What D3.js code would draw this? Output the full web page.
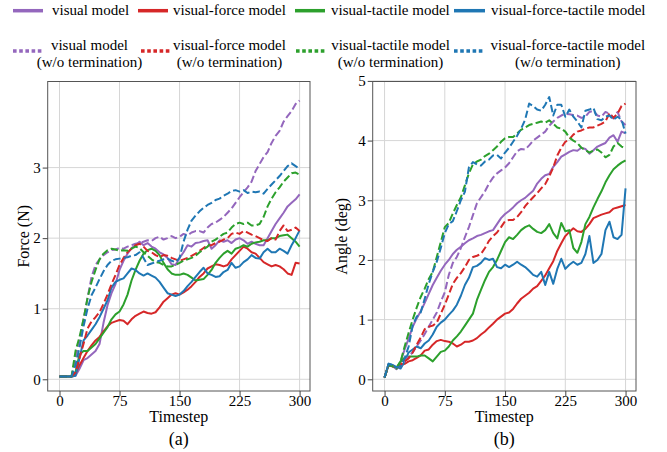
<!DOCTYPE html>
<html><head><meta charset="utf-8">
<script src="https://cdn.jsdelivr.net/npm/d3@7"></script>
<style>
body{margin:0;background:#fff}
svg{display:block}
svg text{font-family:'Liberation Serif','Times New Roman',Tinos,'DejaVu Serif',serif !important;fill:#000}
</style>
</head><body><svg id="c" width="667" height="452" font-family="Liberation Serif, DejaVu Serif, serif"></svg>
<script>
const timesteps = [0,5,10,15,20,25,30,35,40,45,50,55,60,65,70,75,80,85,90,95,100,105,110,115,120,125,130,135,140,145,150,155,160,165,170,175,180,185,190,195,200,205,210,215,220,225,230,235,240,245,250,255,260,265,270,275,280,285,290,295,300];

// Force (N)
const forceV = [0.04,0.04,0.04,0.04,0.05,0.15,0.27,0.3,0.35,0.4,0.5,0.8,1.05,1.22,1.35,1.55,1.68,1.78,1.86,1.9,1.95,1.9,1.93,1.88,1.85,1.8,1.77,1.72,1.63,1.62,1.72,1.8,1.9,1.88,1.93,1.94,1.96,1.97,1.85,1.9,1.97,1.95,1.97,1.93,1.98,2.0,1.97,1.92,1.95,1.92,1.9,1.9,2.0,2.1,2.2,2.28,2.36,2.45,2.5,2.55,2.62];
const forceVF = [0.04,0.04,0.04,0.04,0.08,0.2,0.3,0.4,0.48,0.55,0.6,0.68,0.75,0.8,0.82,0.84,0.83,0.78,0.85,0.9,0.93,0.96,0.94,0.93,0.95,1.02,1.1,1.15,1.2,1.22,1.2,1.23,1.27,1.32,1.38,1.45,1.5,1.57,1.6,1.63,1.62,1.6,1.62,1.7,1.76,1.82,1.88,1.85,1.8,1.78,1.72,1.66,1.63,1.6,1.62,1.6,1.56,1.5,1.48,1.65,1.64];
const forceVT = [0.04,0.04,0.04,0.04,0.1,0.35,0.4,0.4,0.45,0.5,0.58,0.66,0.74,0.85,0.92,0.96,1.06,1.2,1.4,1.55,1.68,1.78,1.83,1.85,1.82,1.76,1.65,1.56,1.5,1.48,1.48,1.5,1.48,1.44,1.4,1.41,1.42,1.48,1.55,1.65,1.72,1.78,1.82,1.78,1.85,1.87,1.9,1.88,1.92,1.94,1.95,1.97,1.97,2.0,2.0,2.03,2.04,2.05,2.0,1.95,1.88];
const forceVFT = [0.04,0.04,0.04,0.04,0.05,0.3,0.55,0.62,0.7,0.78,0.88,1.0,1.12,1.3,1.38,1.41,1.43,1.5,1.57,1.55,1.5,1.47,1.5,1.47,1.44,1.38,1.3,1.22,1.2,1.18,1.2,1.25,1.32,1.38,1.45,1.52,1.58,1.5,1.48,1.45,1.46,1.52,1.55,1.65,1.58,1.6,1.66,1.7,1.76,1.72,1.71,1.8,1.85,1.8,1.8,1.85,1.82,1.78,1.9,2.0,2.11];
const forceVwo = [0.04,0.04,0.04,0.04,0.3,0.55,0.85,1.15,1.45,1.62,1.7,1.76,1.8,1.83,1.84,1.86,1.85,1.88,1.9,1.92,1.93,1.95,1.97,1.96,2.0,2.02,1.98,2.0,2.03,2.0,2.02,2.06,2.04,2.08,2.1,2.1,2.08,2.15,2.2,2.22,2.26,2.3,2.36,2.42,2.5,2.58,2.65,2.72,2.8,2.95,3.05,3.15,3.22,3.35,3.45,3.52,3.65,3.73,3.8,3.9,3.95];
const forceVFwo = [0.04,0.04,0.04,0.04,0.1,0.3,0.5,0.72,0.82,0.88,0.95,1.07,1.2,1.35,1.48,1.62,1.72,1.8,1.85,1.9,1.92,1.88,1.82,1.8,1.76,1.73,1.76,1.75,1.72,1.7,1.68,1.7,1.72,1.75,1.78,1.82,1.86,1.9,1.9,1.93,1.95,1.98,2.0,2.06,2.08,2.06,2.1,2.08,2.05,2.03,2.0,1.97,1.96,2.0,1.98,2.1,2.18,2.1,2.12,2.15,2.1];
const forceVTwo = [0.04,0.04,0.04,0.04,0.4,0.6,0.85,1.15,1.38,1.55,1.7,1.78,1.83,1.85,1.84,1.82,1.83,1.82,1.85,1.88,1.86,1.8,1.75,1.7,1.66,1.65,1.62,1.6,1.6,1.62,1.65,1.68,1.7,1.72,1.75,1.8,1.84,1.88,1.95,1.98,2.02,2.06,2.08,2.15,2.2,2.22,2.2,2.22,2.18,2.18,2.2,2.3,2.45,2.56,2.65,2.72,2.8,2.86,2.92,2.93,2.9];
const forceVFTwo = [0.04,0.04,0.04,0.04,0.2,0.45,0.75,1.0,1.19,1.3,1.42,1.53,1.62,1.68,1.7,1.71,1.72,1.73,1.75,1.76,1.8,1.72,1.62,1.64,1.66,1.68,1.7,1.71,1.68,1.66,1.72,1.95,2.12,2.25,2.32,2.38,2.43,2.47,2.5,2.54,2.56,2.6,2.63,2.67,2.68,2.66,2.68,2.64,2.66,2.65,2.66,2.63,2.7,2.76,2.82,2.88,2.95,3.02,3.06,3.02,2.98];

// Angle (deg)
const angleV = [0.03,0.24,0.22,0.17,0.3,0.5,0.68,0.88,1.02,1.14,1.28,1.43,1.58,1.7,1.82,1.92,2.0,2.1,2.17,2.22,2.28,2.33,2.36,2.4,2.42,2.45,2.48,2.5,2.6,2.7,2.77,2.82,2.88,2.95,3.0,3.04,3.1,3.16,3.28,3.36,3.42,3.44,3.56,3.64,3.73,3.77,3.81,3.84,3.83,3.88,3.86,3.78,3.84,3.9,3.93,3.96,4.05,4.09,3.98,4.15,4.12];
const angleVF = [0.03,0.24,0.22,0.2,0.24,0.26,0.3,0.32,0.36,0.4,0.48,0.5,0.58,0.64,0.66,0.64,0.63,0.6,0.55,0.58,0.63,0.63,0.65,0.69,0.75,0.8,0.87,0.93,1.0,1.05,1.1,1.12,1.18,1.27,1.35,1.4,1.45,1.52,1.56,1.65,1.74,1.86,1.98,2.15,2.28,2.4,2.47,2.53,2.48,2.47,2.52,2.6,2.7,2.73,2.76,2.78,2.8,2.86,2.88,2.9,2.92];
const angleVT = [0.03,0.24,0.22,0.2,0.3,0.36,0.38,0.38,0.38,0.4,0.4,0.35,0.3,0.38,0.46,0.48,0.55,0.65,0.72,0.8,0.9,1.0,1.1,1.33,1.5,1.66,1.8,1.88,2.0,2.15,2.3,2.38,2.35,2.42,2.5,2.55,2.58,2.52,2.47,2.45,2.5,2.6,2.45,2.36,2.62,2.48,2.5,2.2,2.12,2.3,2.6,2.72,2.88,3.02,3.15,3.3,3.42,3.52,3.58,3.63,3.67];
const angleVFT = [0.03,0.26,0.24,0.2,0.18,0.3,0.45,0.5,0.55,0.52,0.6,0.65,0.75,0.88,0.95,1.0,1.08,1.15,1.25,1.4,1.58,1.7,1.88,1.9,1.95,2.03,2.0,2.02,1.88,1.86,1.92,1.88,1.92,1.97,1.92,1.88,1.82,1.75,1.72,1.8,1.58,1.8,1.6,1.85,2.02,1.85,1.92,1.97,1.92,1.95,2.1,2.4,1.95,2.0,2.1,2.5,2.64,2.38,2.35,2.42,3.2];
const angleVwo = [0.03,0.24,0.22,0.18,0.22,0.3,0.38,0.45,0.55,0.65,0.76,0.88,1.0,1.12,1.3,1.46,1.75,1.95,2.05,2.2,2.38,2.55,2.75,2.95,3.05,3.15,3.28,3.38,3.45,3.5,3.55,3.62,3.72,3.82,3.86,3.85,3.92,4.0,4.05,4.1,4.15,4.25,4.32,4.38,4.42,4.45,4.44,4.43,4.42,4.38,4.4,4.48,4.5,4.42,4.4,4.48,4.45,4.37,4.48,4.32,4.26];
const angleVFwo = [0.03,0.24,0.22,0.2,0.25,0.3,0.35,0.45,0.58,0.7,0.84,0.88,0.9,0.95,1.1,1.25,1.42,1.6,1.7,1.78,1.88,2.0,2.05,2.07,2.1,2.2,2.32,2.4,2.46,2.55,2.65,2.67,2.67,2.72,2.8,2.9,2.98,3.05,3.12,3.2,3.27,3.4,3.55,3.75,3.88,3.98,4.02,4.1,4.15,4.17,4.2,4.22,4.22,4.25,4.28,4.32,4.46,4.38,4.45,4.58,4.62];
const angleVTwo = [0.03,0.24,0.22,0.18,0.3,0.55,0.78,1.0,1.2,1.38,1.52,1.68,1.8,2.05,2.3,2.55,2.62,2.78,2.92,3.05,3.25,3.45,3.6,3.65,3.68,3.74,3.78,3.84,3.9,3.98,4.04,4.06,4.06,4.12,4.18,4.22,4.26,4.28,4.3,4.32,4.3,4.34,4.28,4.22,4.2,4.15,4.05,4.0,3.96,3.88,3.84,3.8,3.83,3.85,3.8,3.72,3.76,3.9,3.96,3.9,3.87];
const angleVFTwo = [0.03,0.26,0.24,0.2,0.22,0.35,0.55,0.9,1.05,1.12,1.35,1.6,1.8,1.97,2.2,2.45,2.6,2.65,2.82,3.0,3.14,3.55,3.64,3.6,3.58,3.65,3.68,3.75,3.76,3.7,3.8,3.88,3.98,4.08,4.2,4.35,4.62,4.58,4.52,4.5,4.6,4.73,4.42,4.6,4.6,4.4,4.52,4.4,4.32,4.22,4.5,4.52,4.55,4.36,4.34,4.4,4.42,4.35,4.4,4.35,4.12];

const modelNames = ["visual model","visual-force model","visual-tactile model","visual-force-tactile model"];
const woSuffix = "(w/o termination)";
const colors = ["#9467bd","#d62728","#2ca02c","#1f77b4"];
const timeTicks = [0,75,150,225,300];
const forceTicks = [0,1,2,3];
const angleTicks = [0,1,2,3,4,5];
const panelLetters = ["(a)","(b)"];
const yLabels = ["Force (N)","Angle (deg)"];

const FONT = "'Liberation Serif','Times New Roman',Tinos,'DejaVu Serif',serif";
const svg = d3.select("#c");
const panels = [
  {left:47.7,right:310,top:81.5,bottom:391,ydom:[-0.166,4.22],ticks:forceTicks,
   solid:[forceV,forceVF,forceVT,forceVFT],dashed:[forceVwo,forceVFwo,forceVTwo,forceVFTwo],ylab:29},
  {left:372.7,right:636,top:81.5,bottom:391,ydom:[-0.196,4.99],ticks:angleTicks,
   solid:[angleV,angleVF,angleVT,angleVFT],dashed:[angleVwo,angleVFwo,angleVTwo,angleVFTwo],ylab:346.5}
];

panels.forEach((p,pi)=>{
  const x = d3.scaleLinear().domain([-14.75,313]).range([p.left,p.right]);
  const y = d3.scaleLinear().domain(p.ydom).range([p.bottom,p.top]);
  const g = svg.append("g");
  g.selectAll(".gx").data(timeTicks).enter().append("line")
    .attr("x1",d=>x(d)).attr("x2",d=>x(d)).attr("y1",p.top).attr("y2",p.bottom)
    .attr("stroke","#d6d6d6").attr("stroke-width",1);
  g.selectAll(".gy").data(p.ticks).enter().append("line")
    .attr("y1",d=>y(d)).attr("y2",d=>y(d)).attr("x1",p.left).attr("x2",p.right)
    .attr("stroke","#d6d6d6").attr("stroke-width",1);
  const line = d3.line().x((d,i)=>x(timesteps[i])).y(d=>y(d));
  p.solid.forEach((s,i)=>{
    g.append("path").attr("d",line(s)).attr("fill","none").attr("stroke",colors[i])
      .attr("stroke-width",2).attr("stroke-linejoin","round");
  });
  p.dashed.forEach((s,i)=>{
    g.append("path").attr("d",line(s)).attr("fill","none").attr("stroke",colors[i])
      .attr("stroke-width",2).attr("stroke-dasharray","7.4,3.2").attr("stroke-linejoin","round");
  });
  g.append("rect").attr("x",p.left).attr("y",p.top).attr("width",p.right-p.left).attr("height",p.bottom-p.top)
    .attr("fill","none").attr("stroke","#555").attr("stroke-width",1);
  const xa = g.append("g").attr("transform",`translate(0,${p.bottom})`)
    .call(d3.axisBottom(x).tickValues(timeTicks).tickFormat(d3.format("d")).tickSize(5).tickPadding(-1));
  const ya = g.append("g").attr("transform",`translate(${p.left},0)`)
    .call(d3.axisLeft(y).tickValues(p.ticks).tickFormat(d3.format("d")).tickSize(5).tickPadding(2));
  [xa,ya].forEach(a=>{
    a.attr("font-family",FONT).attr("font-size",15);
    a.select(".domain").remove();
    a.selectAll(".tick line").attr("stroke","#444");
    a.selectAll(".tick text").attr("fill","#111");
  });
  const cx = (p.left+p.right)/2;
  g.append("text").attr("x",cx).attr("y",422).attr("text-anchor","middle").attr("font-family",FONT).attr("font-size",16).text("Timestep");
  g.append("text").attr("x",cx).attr("y",445).attr("text-anchor","middle").attr("font-family",FONT).attr("font-size",18).text(panelLetters[pi]);
  g.append("text").attr("transform",`translate(${p.ylab},${(p.top+p.bottom)/2}) rotate(-90)`)
    .attr("text-anchor","middle").attr("font-family",FONT).attr("font-size",16).text(yLabels[pi]);
});

const row1 = [{h:[13,43],t:52},{h:[138,168],t:173},{h:[295,325],t:331},{h:[454,485],t:491}];
const row2 = [{h:[13,43],c:89.5},{h:[141,170],c:229.5},{h:[296,325],c:390.5},{h:[454,484],c:567.8}];
const lg = svg.append("g").attr("font-family",FONT).attr("font-size",15);
modelNames.forEach((n,i)=>{
  lg.append("line").attr("x1",row1[i].h[0]).attr("x2",row1[i].h[1]).attr("y1",10.7).attr("y2",10.7)
    .attr("stroke",colors[i]).attr("stroke-width",3.5);
  lg.append("text").attr("x",row1[i].t).attr("y",15).text(n);
  lg.append("line").attr("x1",row2[i].h[0]).attr("x2",row2[i].h[1]).attr("y1",51).attr("y2",51)
    .attr("stroke",colors[i]).attr("stroke-width",3.5).attr("stroke-dasharray","3.6,2.6");
  lg.append("text").attr("x",row2[i].c).attr("y",50).attr("text-anchor","middle").text(n);
  lg.append("text").attr("x",row2[i].c).attr("y",66.5).attr("text-anchor","middle").text(woSuffix);
});
</script></body></html>
